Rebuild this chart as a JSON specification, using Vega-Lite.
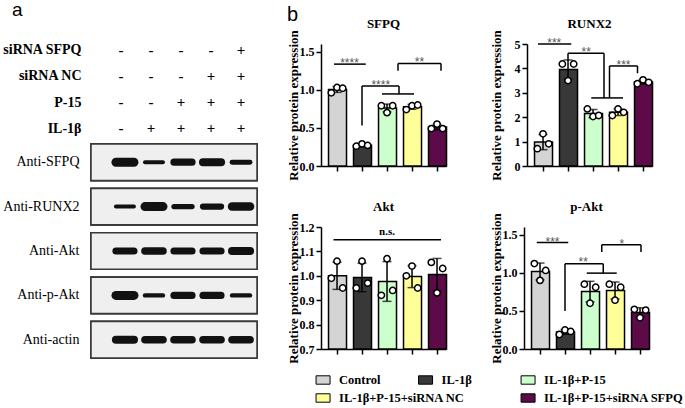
{
  "$schema": "https://vega.github.io/schema/vega-lite/v6.json",
  "background": "white",
  "padding": {"left": 2, "top": 0, "right": 0, "bottom": 0},
  "config": {
    "view": {"stroke": null},
    "font": "Liberation Serif",
    "axis": {"domainColor": "black", "domainWidth": 1.5, "tickColor": "black", "tickWidth": 1.5, "tickSize": 5, "labelColor": "black", "labelFont": "Liberation Serif", "labelFontWeight": "bold", "labelFontSize": 12, "labelPadding": 2, "titleFont": "Liberation Serif", "titleFontWeight": "bold", "titleFontSize": 13, "titleColor": "black", "grid": false},
    "title": {"font": "Liberation Serif", "fontWeight": "bold", "fontSize": 13, "color": "black", "offset": -1}
  },
  "datasets": {
    "pts": [
      {"panel": "SFPQ", "group": "Control", "rep": 1, "value": 0.96},
      {"panel": "SFPQ", "group": "Control", "rep": 2, "value": 1.03},
      {"panel": "SFPQ", "group": "Control", "rep": 3, "value": 1.02},
      {"panel": "SFPQ", "group": "IL-1β", "rep": 1, "value": 0.26},
      {"panel": "SFPQ", "group": "IL-1β", "rep": 2, "value": 0.29},
      {"panel": "SFPQ", "group": "IL-1β", "rep": 3, "value": 0.27},
      {"panel": "SFPQ", "group": "IL-1β+P-15", "rep": 1, "value": 0.79},
      {"panel": "SFPQ", "group": "IL-1β+P-15", "rep": 2, "value": 0.70},
      {"panel": "SFPQ", "group": "IL-1β+P-15", "rep": 3, "value": 0.79},
      {"panel": "SFPQ", "group": "IL-1β+P-15+siRNA NC", "rep": 1, "value": 0.74},
      {"panel": "SFPQ", "group": "IL-1β+P-15+siRNA NC", "rep": 2, "value": 0.79},
      {"panel": "SFPQ", "group": "IL-1β+P-15+siRNA NC", "rep": 3, "value": 0.80},
      {"panel": "SFPQ", "group": "IL-1β+P-15+siRNA SFPQ", "rep": 1, "value": 0.49},
      {"panel": "SFPQ", "group": "IL-1β+P-15+siRNA SFPQ", "rep": 2, "value": 0.55},
      {"panel": "SFPQ", "group": "IL-1β+P-15+siRNA SFPQ", "rep": 3, "value": 0.49},
      {"panel": "RUNX2", "group": "Control", "rep": 1, "value": 0.71},
      {"panel": "RUNX2", "group": "Control", "rep": 2, "value": 1.32},
      {"panel": "RUNX2", "group": "Control", "rep": 3, "value": 0.91},
      {"panel": "RUNX2", "group": "IL-1β", "rep": 1, "value": 4.18},
      {"panel": "RUNX2", "group": "IL-1β", "rep": 2, "value": 3.50},
      {"panel": "RUNX2", "group": "IL-1β", "rep": 3, "value": 4.18},
      {"panel": "RUNX2", "group": "IL-1β+P-15", "rep": 1, "value": 2.34},
      {"panel": "RUNX2", "group": "IL-1β+P-15", "rep": 2, "value": 2.03},
      {"panel": "RUNX2", "group": "IL-1β+P-15", "rep": 3, "value": 2.07},
      {"panel": "RUNX2", "group": "IL-1β+P-15+siRNA NC", "rep": 1, "value": 2.07},
      {"panel": "RUNX2", "group": "IL-1β+P-15+siRNA NC", "rep": 2, "value": 2.34},
      {"panel": "RUNX2", "group": "IL-1β+P-15+siRNA NC", "rep": 3, "value": 2.20},
      {"panel": "RUNX2", "group": "IL-1β+P-15+siRNA SFPQ", "rep": 1, "value": 3.37},
      {"panel": "RUNX2", "group": "IL-1β+P-15+siRNA SFPQ", "rep": 2, "value": 3.53},
      {"panel": "RUNX2", "group": "IL-1β+P-15+siRNA SFPQ", "rep": 3, "value": 3.43},
      {"panel": "Akt", "group": "Control", "rep": 1, "value": 0.99},
      {"panel": "Akt", "group": "Control", "rep": 2, "value": 1.06},
      {"panel": "Akt", "group": "Control", "rep": 3, "value": 0.95},
      {"panel": "Akt", "group": "IL-1β", "rep": 1, "value": 0.95},
      {"panel": "Akt", "group": "IL-1β", "rep": 2, "value": 1.06},
      {"panel": "Akt", "group": "IL-1β", "rep": 3, "value": 0.97},
      {"panel": "Akt", "group": "IL-1β+P-15", "rep": 1, "value": 0.92},
      {"panel": "Akt", "group": "IL-1β+P-15", "rep": 2, "value": 1.07},
      {"panel": "Akt", "group": "IL-1β+P-15", "rep": 3, "value": 0.94},
      {"panel": "Akt", "group": "IL-1β+P-15+siRNA NC", "rep": 1, "value": 1.00},
      {"panel": "Akt", "group": "IL-1β+P-15+siRNA NC", "rep": 2, "value": 1.04},
      {"panel": "Akt", "group": "IL-1β+P-15+siRNA NC", "rep": 3, "value": 0.95},
      {"panel": "Akt", "group": "IL-1β+P-15+siRNA SFPQ", "rep": 1, "value": 1.055},
      {"panel": "Akt", "group": "IL-1β+P-15+siRNA SFPQ", "rep": 2, "value": 0.93},
      {"panel": "Akt", "group": "IL-1β+P-15+siRNA SFPQ", "rep": 3, "value": 1.03},
      {"panel": "p-Akt", "group": "Control", "rep": 1, "value": 1.12},
      {"panel": "p-Akt", "group": "Control", "rep": 2, "value": 0.90},
      {"panel": "p-Akt", "group": "Control", "rep": 3, "value": 1.03},
      {"panel": "p-Akt", "group": "IL-1β", "rep": 1, "value": 0.19},
      {"panel": "p-Akt", "group": "IL-1β", "rep": 2, "value": 0.25},
      {"panel": "p-Akt", "group": "IL-1β", "rep": 3, "value": 0.23},
      {"panel": "p-Akt", "group": "IL-1β+P-15", "rep": 1, "value": 0.85},
      {"panel": "p-Akt", "group": "IL-1β+P-15", "rep": 2, "value": 0.60},
      {"panel": "p-Akt", "group": "IL-1β+P-15", "rep": 3, "value": 0.81},
      {"panel": "p-Akt", "group": "IL-1β+P-15+siRNA NC", "rep": 1, "value": 0.85},
      {"panel": "p-Akt", "group": "IL-1β+P-15+siRNA NC", "rep": 2, "value": 0.64},
      {"panel": "p-Akt", "group": "IL-1β+P-15+siRNA NC", "rep": 3, "value": 0.81},
      {"panel": "p-Akt", "group": "IL-1β+P-15+siRNA SFPQ", "rep": 1, "value": 0.52},
      {"panel": "p-Akt", "group": "IL-1β+P-15+siRNA SFPQ", "rep": 2, "value": 0.41},
      {"panel": "p-Akt", "group": "IL-1β+P-15+siRNA SFPQ", "rep": 3, "value": 0.51}
    ],
    "segs": [
      {"panel": "SFPQ", "x": 0.88, "x2": 2.15, "y": 1.336, "y2": 1.336},
      {"panel": "SFPQ", "x": 2.0, "x2": 2.0, "y": 0.53, "y2": 1.048},
      {"panel": "SFPQ", "x": 2.0, "x2": 3.48, "y": 1.048, "y2": 1.048},
      {"panel": "SFPQ", "x": 3.48, "x2": 3.48, "y": 1.048, "y2": 0.945},
      {"panel": "SFPQ", "x": 2.8, "x2": 4.08, "y": 0.945, "y2": 0.945},
      {"panel": "SFPQ", "x": 3.44, "x2": 3.44, "y": 1.25, "y2": 1.344},
      {"panel": "SFPQ", "x": 3.44, "x2": 5.16, "y": 1.344, "y2": 1.344},
      {"panel": "SFPQ", "x": 5.16, "x2": 5.16, "y": 1.344, "y2": 1.25},
      {"panel": "RUNX2", "x": 0.8, "x2": 2.13, "y": 5.0, "y2": 5.0},
      {"panel": "RUNX2", "x": 2.0, "x2": 2.0, "y": 4.32, "y2": 4.62},
      {"panel": "RUNX2", "x": 2.0, "x2": 3.44, "y": 4.62, "y2": 4.62},
      {"panel": "RUNX2", "x": 3.44, "x2": 3.44, "y": 4.62, "y2": 2.79},
      {"panel": "RUNX2", "x": 2.93, "x2": 4.2, "y": 2.79, "y2": 2.79},
      {"panel": "RUNX2", "x": 3.66, "x2": 3.66, "y": 2.79, "y2": 4.1},
      {"panel": "RUNX2", "x": 3.66, "x2": 4.78, "y": 4.1, "y2": 4.1},
      {"panel": "RUNX2", "x": 4.78, "x2": 4.78, "y": 4.1, "y2": 3.8},
      {"panel": "Akt", "x": 0.86, "x2": 5.16, "y": 1.148, "y2": 1.148},
      {"panel": "p-Akt", "x": 0.87, "x2": 2.13, "y": 1.397, "y2": 1.397},
      {"panel": "p-Akt", "x": 2.0, "x2": 2.0, "y": 0.497, "y2": 1.119},
      {"panel": "p-Akt", "x": 2.0, "x2": 3.53, "y": 1.119, "y2": 1.119},
      {"panel": "p-Akt", "x": 3.53, "x2": 3.53, "y": 1.119, "y2": 0.995},
      {"panel": "p-Akt", "x": 2.87, "x2": 4.07, "y": 0.995, "y2": 0.995},
      {"panel": "p-Akt", "x": 3.47, "x2": 3.47, "y": 1.272, "y2": 1.368},
      {"panel": "p-Akt", "x": 3.47, "x2": 5.04, "y": 1.368, "y2": 1.368},
      {"panel": "p-Akt", "x": 5.04, "x2": 5.04, "y": 1.368, "y2": 1.272}
    ],
    "stars": [
      {"panel": "SFPQ", "x": 1.5, "y": 1.40, "label": "****"},
      {"panel": "SFPQ", "x": 2.75, "y": 1.12, "label": "****"},
      {"panel": "SFPQ", "x": 4.3, "y": 1.42, "label": "**"},
      {"panel": "RUNX2", "x": 1.45, "y": 5.2, "label": "***"},
      {"panel": "RUNX2", "x": 2.73, "y": 4.82, "label": "**"},
      {"panel": "RUNX2", "x": 4.22, "y": 4.3, "label": "***"},
      {"panel": "Akt", "x": 3.0, "y": 1.18, "label": "n.s."},
      {"panel": "p-Akt", "x": 1.5, "y": 1.46, "label": "***"},
      {"panel": "p-Akt", "x": 2.73, "y": 1.2, "label": "**"},
      {"panel": "p-Akt", "x": 4.27, "y": 1.43, "label": "*"}
    ],
    "conds": [
      {"cond": "siRNA SFPQ", "lane": 1, "sign": "-"}, {"cond": "siRNA SFPQ", "lane": 2, "sign": "-"}, {"cond": "siRNA SFPQ", "lane": 3, "sign": "-"}, {"cond": "siRNA SFPQ", "lane": 4, "sign": "-"}, {"cond": "siRNA SFPQ", "lane": 5, "sign": "+"},
      {"cond": "siRNA NC", "lane": 1, "sign": "-"}, {"cond": "siRNA NC", "lane": 2, "sign": "-"}, {"cond": "siRNA NC", "lane": 3, "sign": "-"}, {"cond": "siRNA NC", "lane": 4, "sign": "+"}, {"cond": "siRNA NC", "lane": 5, "sign": "+"},
      {"cond": "P-15", "lane": 1, "sign": "-"}, {"cond": "P-15", "lane": 2, "sign": "-"}, {"cond": "P-15", "lane": 3, "sign": "+"}, {"cond": "P-15", "lane": 4, "sign": "+"}, {"cond": "P-15", "lane": 5, "sign": "+"},
      {"cond": "IL-1β", "lane": 1, "sign": "-"}, {"cond": "IL-1β", "lane": 2, "sign": "+"}, {"cond": "IL-1β", "lane": 3, "sign": "+"}, {"cond": "IL-1β", "lane": 4, "sign": "+"}, {"cond": "IL-1β", "lane": 5, "sign": "+"}
    ],
    "blots": [
      {"ab": "Anti-SFPQ", "lane": 1, "intensity": 1.0}, {"ab": "Anti-SFPQ", "lane": 2, "intensity": 0.45}, {"ab": "Anti-SFPQ", "lane": 3, "intensity": 0.8}, {"ab": "Anti-SFPQ", "lane": 4, "intensity": 0.9}, {"ab": "Anti-SFPQ", "lane": 5, "intensity": 0.55},
      {"ab": "Anti-RUNX2", "lane": 1, "intensity": 0.45}, {"ab": "Anti-RUNX2", "lane": 2, "intensity": 1.0}, {"ab": "Anti-RUNX2", "lane": 3, "intensity": 0.6}, {"ab": "Anti-RUNX2", "lane": 4, "intensity": 0.7}, {"ab": "Anti-RUNX2", "lane": 5, "intensity": 0.95},
      {"ab": "Anti-Akt", "lane": 1, "intensity": 0.8}, {"ab": "Anti-Akt", "lane": 2, "intensity": 0.85}, {"ab": "Anti-Akt", "lane": 3, "intensity": 0.8}, {"ab": "Anti-Akt", "lane": 4, "intensity": 0.8}, {"ab": "Anti-Akt", "lane": 5, "intensity": 0.9},
      {"ab": "Anti-p-Akt", "lane": 1, "intensity": 1.0}, {"ab": "Anti-p-Akt", "lane": 2, "intensity": 0.5}, {"ab": "Anti-p-Akt", "lane": 3, "intensity": 0.8}, {"ab": "Anti-p-Akt", "lane": 4, "intensity": 0.8}, {"ab": "Anti-p-Akt", "lane": 5, "intensity": 0.5},
      {"ab": "Anti-actin", "lane": 1, "intensity": 0.9}, {"ab": "Anti-actin", "lane": 2, "intensity": 0.85}, {"ab": "Anti-actin", "lane": 3, "intensity": 0.85}, {"ab": "Anti-actin", "lane": 4, "intensity": 0.85}, {"ab": "Anti-actin", "lane": 5, "intensity": 0.85}
    ],
    "leg": [
      {"group": "Control", "col": 1, "row": 1},
      {"group": "IL-1β", "col": 2, "row": 1},
      {"group": "IL-1β+P-15", "col": 3, "row": 1},
      {"group": "IL-1β+P-15+siRNA NC", "col": 1, "row": 2},
      {"group": "IL-1β+P-15+siRNA SFPQ", "col": 3, "row": 2}
    ]
  },
  "spacing": 18,
  "center": false,
  "hconcat": [
    {
      "title": {"text": "a", "anchor": "start", "font": "Liberation Sans", "fontWeight": "normal", "fontSize": 19, "offset": 23, "dx": 10},
      "spacing": 6,
      "vconcat": [
        {
          "width": 166, "height": 90,
          "data": {"name": "conds"},
          "mark": {"type": "text", "fontSize": 15, "fontWeight": "bold", "font": "Liberation Serif", "color": "black"},
          "encoding": {
            "x": {"field": "lane", "type": "quantitative", "scale": {"domain": [0, 5.53]}, "axis": null},
            "y": {"field": "cond", "type": "nominal", "sort": ["siRNA SFPQ", "siRNA NC", "P-15", "IL-1β"], "scale": {"type": "point", "padding": 0.23}, "axis": {"title": null, "domain": false, "ticks": false, "labelFontSize": 14, "labelPadding": 10}},
            "text": {"field": "sign"}
          }
        },
        {
          "width": 166, "height": 214,
          "data": {"name": "blots"},
          "layer": [
            {
              "mark": {"type": "rect", "fill": "#efefef", "stroke": "#3a3a3a", "strokeWidth": 1.5},
              "encoding": {
                "y": {"field": "ab", "type": "nominal", "sort": ["Anti-SFPQ", "Anti-RUNX2", "Anti-Akt", "Anti-p-Akt", "Anti-actin"], "scale": {"paddingInner": 0.18, "paddingOuter": 0}, "axis": {"title": null, "domain": false, "ticks": false, "labelFontSize": 14, "labelFontWeight": "normal", "labelPadding": 12}}
              }
            },
            {
              "mark": {"type": "point", "shape": "M-1,0L1,0", "size": 324, "filled": false, "color": "#111111", "strokeCap": "round", "opacity": 1},
              "encoding": {
                "x": {"field": "lane", "type": "quantitative", "scale": {"domain": [-0.17, 5.55]}, "axis": null},
                "y": {"field": "ab", "type": "nominal", "sort": ["Anti-SFPQ", "Anti-RUNX2", "Anti-Akt", "Anti-p-Akt", "Anti-actin"]},
                "strokeWidth": {"field": "intensity", "type": "quantitative", "scale": {"domain": [0.4, 1], "range": [3.5, 9]}, "legend": null}
              }
            }
          ]
        }
      ]
    },
    {
      "title": {"text": "b", "anchor": "start", "font": "Liberation Sans", "fontWeight": "normal", "fontSize": 20, "offset": -7, "dx": 0},
      "spacing": 7,
      "vconcat": [
        {
          "spacing": 19,
          "vconcat": [
            {
              "spacing": 40,
              "hconcat": [
                {
                  "width": 125, "height": 122,
                  "title": "SFPQ",
                  "resolve": {"scale": {"x": "independent"}, "axis": {"x": "independent", "y": "independent"}},
                  "layer": [
                    {
                      "data": {"name": "pts"},
                      "transform": [{"filter": "datum.panel === 'SFPQ'"}],
                      "resolve": {"axis": {"y": "independent"}},
                      "encoding": {
                        "x": {"field": "group", "type": "nominal", "sort": null, "scale": {"domain": ["Control", "IL-1β", "IL-1β+P-15", "IL-1β+P-15+siRNA NC", "IL-1β+P-15+siRNA SFPQ"], "paddingInner": 0.32, "paddingOuter": 0.16, "align": 0.94}, "axis": {"labels": false, "title": null}},
                        "y": {"field": "value", "type": "quantitative", "scale": {"domain": [0, 1.5]}, "axis": null}
                      },
                      "layer": [
                        {
                          "mark": {"type": "bar", "stroke": "black", "strokeWidth": 1.5},
                          "encoding": {
                            "y": {"aggregate": "mean", "field": "value", "type": "quantitative", "title": "Relative protein expression", "scale": {"domain": [0, 1.5]}, "axis": {"values": [0, 0.5, 1, 1.5], "format": ".1f", "titlePadding": -1}},
                            "color": {"field": "group", "type": "nominal", "scale": {"domain": ["Control", "IL-1β", "IL-1β+P-15", "IL-1β+P-15+siRNA NC", "IL-1β+P-15+siRNA SFPQ"], "range": ["#d4d4d4", "#383838", "#ccffcc", "#ffff99", "#5c0a48"]}, "legend": null}
                          }
                        },
                        {"mark": {"type": "errorbar", "extent": "stdev", "color": "black", "thickness": 1.5, "ticks": {"size": 9}}},
                        {
                          "mark": {"type": "point", "filled": true, "fill": "white", "stroke": "black", "strokeWidth": 1.5, "size": 40, "opacity": 1},
                          "encoding": {"xOffset": {"field": "rep", "type": "nominal"}}
                        }
                      ]
                    },
                    {
                      "data": {"name": "segs"},
                      "transform": [{"filter": "datum.panel === 'SFPQ'"}],
                      "mark": {"type": "rule", "color": "black", "strokeWidth": 1.5},
                      "encoding": {
                        "x": {"field": "x", "type": "quantitative", "scale": {"domain": [0.36, 5.36]}, "axis": null},
                        "x2": {"field": "x2"},
                        "y": {"field": "y", "type": "quantitative", "axis": null},
                        "y2": {"field": "y2"}
                      }
                    },
                    {
                      "data": {"name": "stars"},
                      "transform": [{"filter": "datum.panel === 'SFPQ'"}],
                      "mark": {"type": "text", "font": "Liberation Sans", "fontSize": 12, "color": "#555555", "baseline": "middle", "dy": 4},
                      "encoding": {
                        "x": {"field": "x", "type": "quantitative", "scale": {"domain": [0.36, 5.36]}, "axis": null},
                        "y": {"field": "y", "type": "quantitative", "axis": null},
                        "text": {"field": "label"}
                      }
                    }
                  ]
                },
                {
                  "width": 125, "height": 122,
                  "title": "RUNX2",
                  "resolve": {"scale": {"x": "independent"}, "axis": {"x": "independent", "y": "independent"}},
                  "layer": [
                    {
                      "data": {"name": "pts"},
                      "transform": [{"filter": "datum.panel === 'RUNX2'"}],
                      "resolve": {"axis": {"y": "independent"}},
                      "encoding": {
                        "x": {"field": "group", "type": "nominal", "sort": null, "scale": {"domain": ["Control", "IL-1β", "IL-1β+P-15", "IL-1β+P-15+siRNA NC", "IL-1β+P-15+siRNA SFPQ"], "paddingInner": 0.32, "paddingOuter": 0.16, "align": 0.94}, "axis": {"labels": false, "title": null}},
                        "y": {"field": "value", "type": "quantitative", "scale": {"domain": [0, 5]}, "axis": null}
                      },
                      "layer": [
                        {
                          "mark": {"type": "bar", "stroke": "black", "strokeWidth": 1.5},
                          "encoding": {
                            "y": {"aggregate": "mean", "field": "value", "type": "quantitative", "title": "Relative protein expression", "scale": {"domain": [0, 5]}, "axis": {"values": [0, 1, 2, 3, 4, 5], "format": "d", "titlePadding": 11}},
                            "color": {"field": "group", "type": "nominal", "scale": {"domain": ["Control", "IL-1β", "IL-1β+P-15", "IL-1β+P-15+siRNA NC", "IL-1β+P-15+siRNA SFPQ"], "range": ["#d4d4d4", "#383838", "#ccffcc", "#ffff99", "#5c0a48"]}, "legend": null}
                          }
                        },
                        {"mark": {"type": "errorbar", "extent": "stdev", "color": "black", "thickness": 1.5, "ticks": {"size": 9}}},
                        {
                          "mark": {"type": "point", "filled": true, "fill": "white", "stroke": "black", "strokeWidth": 1.5, "size": 40, "opacity": 1},
                          "encoding": {"xOffset": {"field": "rep", "type": "nominal"}}
                        }
                      ]
                    },
                    {
                      "data": {"name": "segs"},
                      "transform": [{"filter": "datum.panel === 'RUNX2'"}],
                      "mark": {"type": "rule", "color": "black", "strokeWidth": 1.5},
                      "encoding": {
                        "x": {"field": "x", "type": "quantitative", "scale": {"domain": [0.36, 5.36]}, "axis": null},
                        "x2": {"field": "x2"},
                        "y": {"field": "y", "type": "quantitative", "axis": null},
                        "y2": {"field": "y2"}
                      }
                    },
                    {
                      "data": {"name": "stars"},
                      "transform": [{"filter": "datum.panel === 'RUNX2'"}],
                      "mark": {"type": "text", "font": "Liberation Sans", "fontSize": 12, "color": "#555555", "baseline": "middle", "dy": 4},
                      "encoding": {
                        "x": {"field": "x", "type": "quantitative", "scale": {"domain": [0.36, 5.36]}, "axis": null},
                        "y": {"field": "y", "type": "quantitative", "axis": null},
                        "text": {"field": "label"}
                      }
                    }
                  ]
                }
              ]
            },
            {
              "spacing": 40,
              "hconcat": [
                {
                  "width": 125, "height": 122,
                  "title": "Akt",
                  "resolve": {"scale": {"x": "independent"}, "axis": {"x": "independent", "y": "independent"}},
                  "layer": [
                    {
                      "data": {"name": "pts"},
                      "transform": [{"filter": "datum.panel === 'Akt'"}],
                      "resolve": {"axis": {"y": "independent"}},
                      "encoding": {
                        "x": {"field": "group", "type": "nominal", "sort": null, "scale": {"domain": ["Control", "IL-1β", "IL-1β+P-15", "IL-1β+P-15+siRNA NC", "IL-1β+P-15+siRNA SFPQ"], "paddingInner": 0.32, "paddingOuter": 0.16, "align": 0.94}, "axis": {"labels": false, "title": null}},
                        "y": {"field": "value", "type": "quantitative", "scale": {"domain": [0.7, 1.2], "zero": false, "clamp": true}, "axis": null}
                      },
                      "layer": [
                        {
                          "mark": {"type": "bar", "stroke": "black", "strokeWidth": 1.5},
                          "encoding": {
                            "y": {"aggregate": "mean", "field": "value", "type": "quantitative", "title": "Relative protein expression", "scale": {"domain": [0.7, 1.2], "zero": false, "clamp": true}, "axis": {"values": [0.7, 0.8, 0.9, 1.0, 1.1, 1.2], "format": ".1f", "titlePadding": -1}},
                            "color": {"field": "group", "type": "nominal", "scale": {"domain": ["Control", "IL-1β", "IL-1β+P-15", "IL-1β+P-15+siRNA NC", "IL-1β+P-15+siRNA SFPQ"], "range": ["#d4d4d4", "#383838", "#ccffcc", "#ffff99", "#5c0a48"]}, "legend": null}
                          }
                        },
                        {"mark": {"type": "errorbar", "extent": "stdev", "color": "black", "thickness": 1.5, "ticks": {"size": 9}}},
                        {
                          "mark": {"type": "point", "filled": true, "fill": "white", "stroke": "black", "strokeWidth": 1.5, "size": 40, "opacity": 1},
                          "encoding": {"xOffset": {"field": "rep", "type": "nominal"}}
                        }
                      ]
                    },
                    {
                      "data": {"name": "segs"},
                      "transform": [{"filter": "datum.panel === 'Akt'"}],
                      "mark": {"type": "rule", "color": "black", "strokeWidth": 1.5},
                      "encoding": {
                        "x": {"field": "x", "type": "quantitative", "scale": {"domain": [0.36, 5.36]}, "axis": null},
                        "x2": {"field": "x2"},
                        "y": {"field": "y", "type": "quantitative", "axis": null},
                        "y2": {"field": "y2"}
                      }
                    },
                    {
                      "data": {"name": "stars"},
                      "transform": [{"filter": "datum.panel === 'Akt'"}],
                      "mark": {"type": "text", "font": "Liberation Serif", "fontWeight": "bold", "fontSize": 11, "color": "black", "baseline": "middle"},
                      "encoding": {
                        "x": {"field": "x", "type": "quantitative", "scale": {"domain": [0.36, 5.36]}, "axis": null},
                        "y": {"field": "y", "type": "quantitative", "axis": null},
                        "text": {"field": "label"}
                      }
                    }
                  ]
                },
                {
                  "width": 125, "height": 122,
                  "title": "p-Akt",
                  "resolve": {"scale": {"x": "independent"}, "axis": {"x": "independent", "y": "independent"}},
                  "layer": [
                    {
                      "data": {"name": "pts"},
                      "transform": [{"filter": "datum.panel === 'p-Akt'"}],
                      "resolve": {"axis": {"y": "independent"}},
                      "encoding": {
                        "x": {"field": "group", "type": "nominal", "sort": null, "scale": {"domain": ["Control", "IL-1β", "IL-1β+P-15", "IL-1β+P-15+siRNA NC", "IL-1β+P-15+siRNA SFPQ"], "paddingInner": 0.32, "paddingOuter": 0.16, "align": 0.94}, "axis": {"labels": false, "title": null}},
                        "y": {"field": "value", "type": "quantitative", "scale": {"domain": [0, 1.5]}, "axis": null}
                      },
                      "layer": [
                        {
                          "mark": {"type": "bar", "stroke": "black", "strokeWidth": 1.5},
                          "encoding": {
                            "y": {"aggregate": "mean", "field": "value", "type": "quantitative", "title": "Relative protein expression", "scale": {"domain": [0, 1.5]}, "axis": {"values": [0, 0.5, 1, 1.5], "format": ".1f", "titlePadding": -1}},
                            "color": {"field": "group", "type": "nominal", "scale": {"domain": ["Control", "IL-1β", "IL-1β+P-15", "IL-1β+P-15+siRNA NC", "IL-1β+P-15+siRNA SFPQ"], "range": ["#d4d4d4", "#383838", "#ccffcc", "#ffff99", "#5c0a48"]}, "legend": null}
                          }
                        },
                        {"mark": {"type": "errorbar", "extent": "stdev", "color": "black", "thickness": 1.5, "ticks": {"size": 9}}},
                        {
                          "mark": {"type": "point", "filled": true, "fill": "white", "stroke": "black", "strokeWidth": 1.5, "size": 40, "opacity": 1},
                          "encoding": {"xOffset": {"field": "rep", "type": "nominal"}}
                        }
                      ]
                    },
                    {
                      "data": {"name": "segs"},
                      "transform": [{"filter": "datum.panel === 'p-Akt'"}],
                      "mark": {"type": "rule", "color": "black", "strokeWidth": 1.5},
                      "encoding": {
                        "x": {"field": "x", "type": "quantitative", "scale": {"domain": [0.36, 5.36]}, "axis": null},
                        "x2": {"field": "x2"},
                        "y": {"field": "y", "type": "quantitative", "axis": null},
                        "y2": {"field": "y2"}
                      }
                    },
                    {
                      "data": {"name": "stars"},
                      "transform": [{"filter": "datum.panel === 'p-Akt'"}],
                      "mark": {"type": "text", "font": "Liberation Sans", "fontSize": 12, "color": "#555555", "baseline": "middle", "dy": 4},
                      "encoding": {
                        "x": {"field": "x", "type": "quantitative", "scale": {"domain": [0.36, 5.36]}, "axis": null},
                        "y": {"field": "y", "type": "quantitative", "axis": null},
                        "text": {"field": "label"}
                      }
                    }
                  ]
                }
              ]
            }
          ]
        },
        {
          "width": 380, "height": 36,
          "data": {"name": "leg"},
          "encoding": {
            "x": {"field": "col", "type": "quantitative", "scale": {"domain": [0.98, 4.687]}, "axis": null},
            "y": {"field": "row", "type": "ordinal", "scale": {"type": "point", "padding": 0.5}, "axis": null}
          },
          "layer": [
            {
              "mark": {"type": "point", "shape": "M-1,-0.6H1V0.6H-1Z", "size": 196, "filled": true, "stroke": "black", "strokeWidth": 1, "opacity": 1},
              "encoding": {
                "fill": {"field": "group", "type": "nominal", "scale": {"domain": ["Control", "IL-1β", "IL-1β+P-15", "IL-1β+P-15+siRNA NC", "IL-1β+P-15+siRNA SFPQ"], "range": ["#d4d4d4", "#383838", "#ccffcc", "#ffff99", "#5c0a48"]}, "legend": null}
              }
            },
            {
              "mark": {"type": "text", "align": "left", "dx": 16, "baseline": "middle", "font": "Liberation Serif", "fontWeight": "bold", "fontSize": 12.5, "color": "black"},
              "encoding": {"text": {"field": "group"}}
            }
          ]
        }
      ]
    }
  ]
}
